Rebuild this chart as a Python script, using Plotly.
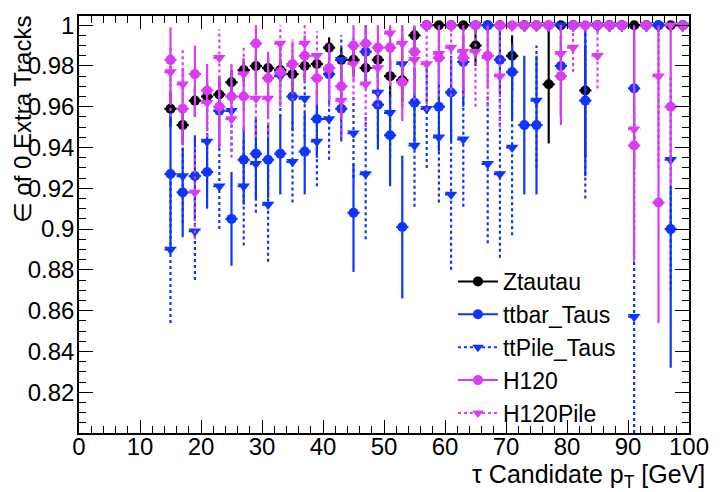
import plotly.graph_objects as go

# ---------------- data ----------------
pt_bins = [15, 17, 19, 21, 23, 25, 27, 29, 31, 33, 35, 37, 39, 41, 43, 45, 47, 49, 51, 53,
           55, 57, 59, 61, 63, 65, 67, 69, 71, 73, 75, 77, 79, 81, 83, 85, 87, 89, 91, 93,
           95, 97, 99]
bin_half_width = 1.0

ztautau_eff = [0.959, 0.951, 0.963, 0.965, 0.966, 0.972, 0.978, 0.980, 0.979, 0.978, 0.976, 0.980,
               0.981, 0.989, 0.983, 0.983, 0.979, 0.983, 0.975, 0.973, 0.995, 1.0, 1.0, 1.0,
               1.0, 0.990, 1.0, 1.0, 0.985, 1.0, 1.0, 0.971, 1.0, 1.0, 0.968, 1.0, 1.0, 1.0,
               1.0, 1.0, 1.0, 1.0, 1.0]
ztautau_lo = [0.950, 0.942, 0.955, 0.958, 0.959, 0.965, 0.972, 0.974, 0.973, 0.972, 0.969, 0.973,
              0.974, 0.982, 0.975, 0.975, 0.970, 0.974, 0.965, 0.962, 0.985, 0.997, 0.997, 0.997,
              0.997, 0.980, 0.997, 0.997, 0.968, 0.997, 0.997, 0.942, 0.997, 0.997, 0.935, 0.997, 0.997, 0.997,
              0.997, 0.997, 0.997, 0.997, 0.997]
ztautau_hi = [0.967, 0.959, 0.970, 0.972, 0.972, 0.978, 0.983, 0.985, 0.984, 0.983, 0.982, 0.985,
              0.986, 0.994, 0.989, 0.989, 0.986, 0.989, 0.983, 0.981, 0.999, 1.0, 1.0, 1.0,
              1.0, 0.997, 1.0, 1.0, 0.995, 1.0, 1.0, 1.0, 1.0, 1.0, 0.990, 1.0, 1.0, 1.0,
              1.0, 1.0, 1.0, 1.0, 1.0]

ttbar_eff = [0.927, 0.918, 0.926, 0.928, 0.958, 0.905, 0.934, 0.937, 0.934, 0.937, 0.965, 0.938,
             0.954, 0.976, 0.959, 0.908, 0.987, 0.961, 0.946, 0.901, 0.962, 1.0, 0.960, 0.967,
             0.982, 1.0, 1.0, 0.983, 0.977, 0.951, 0.951, 1.0, 0.980, 1.0, 0.963, 1.0, 1.0, 1.0,
             0.969, 1.0, 1.0, 0.900, 1.0]
ttbar_lo = [0.890, 0.896, 0.905, 0.910, 0.940, 0.882, 0.912, 0.915, 0.915, 0.917, 0.948, 0.917,
            0.935, 0.962, 0.943, 0.879, 0.970, 0.939, 0.921, 0.866, 0.940, 0.997, 0.938, 0.943,
            0.960, 0.997, 0.997, 0.966, 0.954, 0.917, 0.917, 0.997, 0.955, 0.997, 0.926, 0.997, 0.997, 0.997,
            0.930, 0.997, 0.997, 0.832, 0.997]
ttbar_hi = [0.957, 0.940, 0.946, 0.947, 0.975, 0.928, 0.950, 0.955, 0.952, 0.956, 0.980, 0.957,
            0.968, 0.990, 0.975, 0.932, 1.0, 0.978, 0.966, 0.936, 0.979, 1.0, 0.984, 0.985,
            0.995, 1.0, 1.0, 1.0, 0.991, 0.985, 0.985, 1.0, 0.995, 1.0, 1.0, 1.0, 1.0, 1.0,
            1.0, 1.0, 1.0, 0.921, 1.0]

ttpile_eff = [0.890, 0.926, 0.899, 0.943, 0.921, 0.958, 0.921, 0.932, 0.912, 0.975, 0.933, 0.964,
              0.943, 0.954, 0.983, 0.947, 0.927, 0.967, 0.957, 0.981, 0.941, 0.959, 0.945, 0.917,
              0.944, 1.0, 0.932, 0.927, 0.940, 1.0, 0.963, 1.0, 1.0, 1.0, 1.0, 1.0, 1.0, 1.0,
              0.857, 1.0, 1.0, 0.934, 1.0]
ttpile_lo = [0.854, 0.903, 0.875, 0.922, 0.900, 0.938, 0.892, 0.908, 0.884, 0.955, 0.913, 0.945,
             0.921, 0.934, 0.965, 0.925, 0.895, 0.945, 0.935, 0.960, 0.911, 0.930, 0.913, 0.880,
             0.911, 0.997, 0.893, 0.886, 0.897, 0.997, 0.930, 0.997, 0.997, 0.997, 0.915, 0.997, 0.997, 0.997,
             0.800, 0.997, 0.997, 0.870, 0.997]
ttpile_hi = [0.925, 0.948, 0.922, 0.960, 0.942, 0.975, 0.945, 0.955, 0.935, 0.990, 0.953, 0.980,
             0.962, 0.970, 0.995, 0.966, 0.955, 0.985, 0.975, 0.995, 0.965, 0.980, 0.970, 0.950,
             0.970, 1.0, 0.965, 0.965, 0.975, 1.0, 0.990, 1.0, 1.0, 1.0, 1.0, 1.0, 1.0, 1.0,
             0.960, 1.0, 1.0, 0.975, 1.0]

h120_eff = [0.983, 0.959, 0.976, 0.968, 0.960, 0.965, 0.965, 0.991, 0.974, 0.977, 0.981, 0.985,
            0.974, 0.979, 0.970, 0.990, 0.991, 0.989, 0.989, 0.972, 0.987, 1.0, 0.984, 1.0,
            0.984, 1.0, 0.985, 1.0, 1.0, 1.0, 1.0, 1.0, 0.975, 1.0, 1.0, 1.0, 1.0, 1.0,
            0.941, 1.0, 0.913, 0.960, 1.0]
h120_lo = [0.962, 0.941, 0.955, 0.948, 0.940, 0.952, 0.948, 0.967, 0.955, 0.960, 0.969, 0.972,
           0.961, 0.963, 0.954, 0.973, 0.971, 0.970, 0.970, 0.953, 0.967, 0.997, 0.971, 0.997,
           0.968, 0.997, 0.969, 0.997, 0.997, 0.997, 0.997, 0.997, 0.951, 0.997, 0.997, 0.997, 0.997, 0.997,
           0.884, 0.997, 0.854, 0.921, 0.997]
h120_hi = [0.999, 0.979, 0.990, 0.981, 0.975, 0.981, 0.984, 1.0, 0.987, 0.990, 0.992, 0.995,
           0.986, 0.990, 0.981, 1.0, 1.0, 1.0, 1.0, 1.0, 1.0, 1.0, 1.0, 1.0,
           1.0, 1.0, 1.0, 1.0, 1.0, 1.0, 1.0, 1.0, 1.0, 1.0, 1.0, 1.0, 1.0, 1.0,
           1.0, 1.0, 1.0, 1.0, 1.0]

h120pile_eff = [0.977, 0.971, 0.918, 0.962, 0.984, 0.954, 0.976, 0.964, 0.964, 0.991, 0.980, 0.991,
                0.985, 0.978, 0.963, 0.981, 0.971, 0.979, 0.996, 0.991, 0.983, 0.981, 0.986, 0.989,
                0.987, 0.987, 0.984, 0.975, 1.0, 1.0, 1.0, 1.0, 0.986, 0.989, 1.0, 0.985, 1.0, 1.0,
                0.949, 1.0, 0.975, 1.0, 1.0]
h120pile_lo = [0.955, 0.948, 0.895, 0.945, 0.965, 0.935, 0.958, 0.945, 0.945, 0.973, 0.963, 0.975,
               0.967, 0.960, 0.945, 0.963, 0.950, 0.960, 0.980, 0.970, 0.963, 0.958, 0.965, 0.965,
               0.965, 0.960, 0.960, 0.950, 0.997, 0.997, 0.997, 0.997, 0.958, 0.977, 0.997, 0.969, 0.997, 0.997,
               0.900, 0.997, 0.930, 0.997, 0.997]
h120pile_hi = [0.990, 0.988, 0.940, 0.978, 0.998, 0.970, 0.990, 0.980, 0.980, 1.0, 0.993, 1.0,
               0.997, 0.991, 0.980, 0.995, 0.988, 0.993, 1.0, 1.0, 0.997, 0.995, 1.0, 1.0,
               1.0, 1.0, 1.0, 0.995, 1.0, 1.0, 1.0, 1.0, 1.0, 1.0, 1.0, 1.0, 1.0, 1.0,
               0.990, 1.0, 1.0, 1.0, 1.0]

x_tick_vals = [0, 10, 20, 30, 40, 50, 60, 70, 80, 90, 100]
y_tick_vals = [0.82, 0.84, 0.86, 0.88, 0.9, 0.92, 0.94, 0.96, 0.98, 1.0]
y_tick_text = ["0.82", "0.84", "0.86", "0.88", "0.9", "0.92", "0.94", "0.96", "0.98", "1"]

series = [
    # name, eff, lo, hi, color, dash, symbol
    ("Ztautau", ztautau_eff, ztautau_lo, ztautau_hi, "#000000", "solid", "circle"),
    ("ttbar_Taus", ttbar_eff, ttbar_lo, ttbar_hi, "#0d35ff", "solid", "circle"),
    ("ttPile_Taus", ttpile_eff, ttpile_lo, ttpile_hi, "#0d35ff", "dot", "triangle-down"),
    ("H120", h120_eff, h120_lo, h120_hi, "#d93cf2", "solid", "circle"),
    ("H120Pile", h120pile_eff, h120pile_lo, h120pile_hi, "#d93cf2", "dot", "triangle-down"),
]

FONT = "Liberation Sans, Arial, Helvetica, sans-serif"
fig = go.Figure()

for name, eff, lo, hi, color, dash, symbol in series:
    xs, ys = [], []
    for x, v, l, h in zip(pt_bins, eff, lo, hi):
        xs += [x, x, None]
        ys += [l, h, None]
        xs += [x - bin_half_width, x + bin_half_width, None]
        ys += [v, v, None]
    fig.add_trace(go.Scatter(x=xs, y=ys, mode="lines",
                             line=dict(color=color, width=2.2, dash=dash),
                             hoverinfo="skip", showlegend=False))
    fig.add_trace(go.Scatter(x=pt_bins, y=eff, mode="markers",
                             marker=dict(color=color, symbol=symbol,
                                         size=10 if symbol == "circle" else 11,
                                         line=dict(width=0)),
                             name=name, showlegend=False))

for name, eff, lo, hi, color, dash, symbol in series:
    fig.add_trace(go.Scatter(x=[None], y=[None], mode="lines+markers", name=name,
                             line=dict(color=color, width=2, dash=dash),
                             marker=dict(color=color, symbol=symbol, size=10)))

axis_common = dict(showline=True, linecolor="black", linewidth=1.5, mirror="allticks",
                   ticks="inside", tickcolor="black", tickwidth=1, showgrid=False,
                   zeroline=False, ticklabeloverflow="allow",
                   tickfont=dict(family=FONT, size=24, color="black"))

fig.update_xaxes(range=[0, 100], tickvals=x_tick_vals, ticklen=13, ticklabelstandoff=-9,
                 minor=dict(ticks="inside", dtick=2, tick0=0, ticklen=7, tickcolor="black"),
                 **axis_common)
fig.update_yaxes(range=[0.8, 1.0045], tickvals=y_tick_vals, ticktext=y_tick_text, ticklen=14,
                 ticklabelstandoff=-2,
                 minor=dict(ticks="inside", dtick=0.005, tick0=0.8, ticklen=7, tickcolor="black"),
                 **axis_common)

fig.add_annotation(text="τ Candidate p<sub>T</sub> [GeV]", xref="paper", yref="paper",
                   x=1.03, y=-0.103, xanchor="right", yanchor="middle", showarrow=False,
                   font=dict(family=FONT, size=25, color="black"))
fig.add_annotation(text="∈ of 0 Extra Tracks", xref="paper", yref="paper", textangle=-90,
                   x=-0.093, y=1.007, xanchor="center", yanchor="top", showarrow=False,
                   font=dict(family=FONT, size=24, color="black"))

fig.update_layout(
    width=721, height=492,
    margin=dict(l=79, r=21, t=12, b=59),
    paper_bgcolor="white", plot_bgcolor="white",
    showlegend=True,
    legend=dict(x=0.613, y=0.415, xanchor="left", yanchor="top",
                bgcolor="rgba(0,0,0,0)", font=dict(family=FONT, size=23, color="black"),
                itemwidth=40, tracegroupgap=0),
)

fig.write_html("out.html")
